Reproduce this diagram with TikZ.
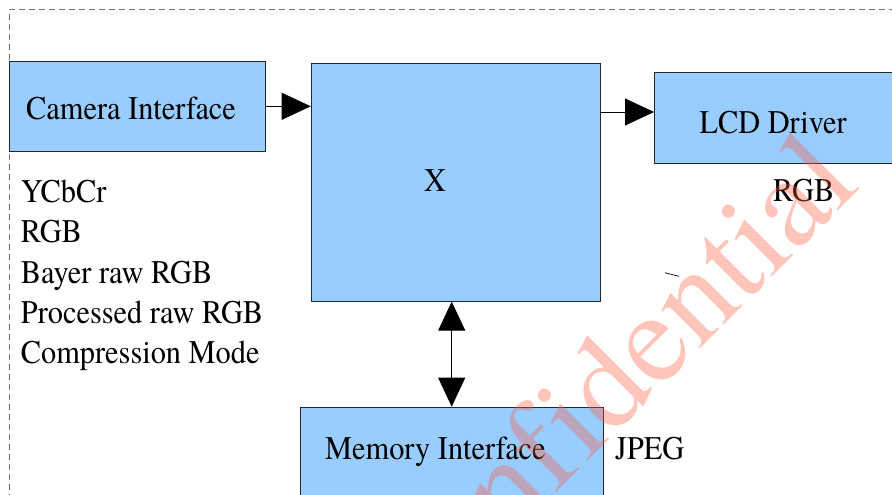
\documentclass[tikz,border=0pt]{standalone}
\usepackage{fontspec}
\setmainfont{texgyretermes-regular.otf}[FakeStretch=0.92]
\newfontfamily\wmfamily{texgyretermes-regular.otf}[Ligatures=NoCommon]
\usetikzlibrary{arrows.meta}
\definecolor{boxblue}{HTML}{99CCFF}
\definecolor{wmred}{HTML}{FF5A3C}
\definecolor{bordergray}{HTML}{707070}
\begin{document}
\begin{tikzpicture}[x=1pt,y=-1pt,
  blk/.style={draw=black!85, line width=0.9pt, fill=boxblue, inner sep=0pt, anchor=north west},
  lbl/.style={anchor=base west, inner sep=0pt, font=\fontsize{33}{40}\selectfont},
  conn/.style={line width=0.8pt, -{Triangle[length=29pt,width=27pt]}},
  bconn/.style={line width=0.8pt, {Triangle[length=29pt,width=27pt]}-{Triangle[length=29pt,width=27pt]}},
  wmark/.style={rotate=45, anchor=base west, inner sep=0pt, font=\wmfamily\fontsize{130}{130}\selectfont, text=wmred, text opacity=0.35}]
\useasboundingbox (0,0) rectangle (892,495);
\clip (0,0) rectangle (892,495);
% outer dashed frame
\draw[bordergray, line width=1pt, dash pattern=on 6pt off 4pt] (9,540) -- (9,10) -- (920,10);
% blocks
\node[blk, minimum width=256pt, minimum height=90.3pt] (cam) at (9,60.7) {};
\node[blk, minimum width=289.3pt, minimum height=238pt] (x) at (310.7,62.7) {};
\node[blk, minimum width=250pt, minimum height=90.4pt] (lcd) at (654,72.3) {};
\node[blk, minimum width=302.5pt, minimum height=113pt] (mem) at (300,406.7) {};
% labels
\node[lbl] (tcam) at (26,119.3) {Camera Interface};
\node[lbl] (tx) at (424,191) {X};
\node[lbl] (tlcd) at (699.3,133.3) {LCD Driver};
\node[lbl] (trgb) at (773,201.7) {RGB};
\node[lbl] (tmem) at (325,459.3) {Memory Interface};
\node[lbl] (tjpeg) at (615,459.3) {JPEG};
\node[lbl] (l1) at (20.7,202.7) {YCbCr};
\node[lbl] (l2) at (20.7,242.7) {RGB};
\node[lbl] (l3) at (20.7,283) {Bayer raw RGB};
\node[lbl] (l4) at (20.7,323) {Processed raw RGB};
\node[lbl] (l5) at (20.7,363) {Compression Mode};
% connectors
\draw[conn] (cam.east) -- (cam.east -| x.west);
\path (x.north east) ++(0,49.3) coordinate (xo);
\draw[conn] (xo) -- (xo -| lcd.west);
\draw[bconn] (mem.north |- x.south) -- (mem.north);
% small stray stroke
\draw[line width=0.7pt] (665,272.7) -- (679,276.3);
% watermark
\node[wmark] (wm) at (401,648) {Confidential};
\end{tikzpicture}
\end{document}
